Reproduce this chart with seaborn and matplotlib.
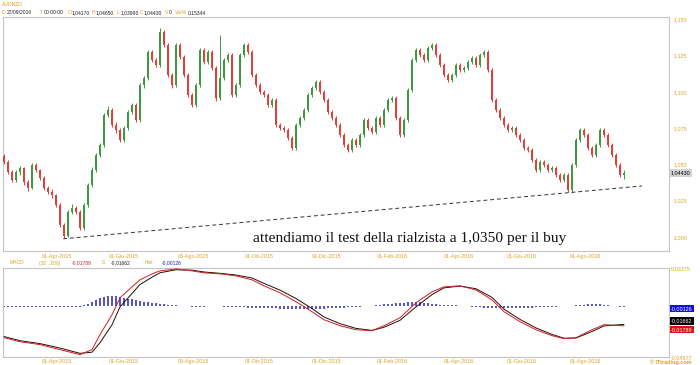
import matplotlib
matplotlib.use("Agg")
import matplotlib.pyplot as plt
import matplotlib.transforms as mtransforms
import numpy as np
import pandas as pd
import seaborn as sns

# ---------------- data ----------------
close = [1.0517, 1.0448, 1.0393, 1.0448, 1.0475, 1.0379, 1.0338, 1.0496, 1.0462, 1.0407,
         1.0338, 1.0310, 1.0289, 1.0221, 1.0083, 1.0007, 1.0172, 1.0200, 1.0172, 1.0062,
         1.0221, 1.0358, 1.0462, 1.0565, 1.0634, 1.0841, 1.0875, 1.0772, 1.0737, 1.0668,
         1.0751, 1.0861, 1.0910, 1.0806, 1.1047, 1.1096, 1.1275, 1.1220, 1.1185, 1.1413,
         1.1323, 1.1116, 1.1047, 1.1323, 1.1240, 1.1116, 1.0978, 1.0910, 1.1047, 1.1288,
         1.1206, 1.1275, 1.1164, 1.0958, 1.1096, 1.1220, 1.1254, 1.0978, 1.1047, 1.1254,
         1.1323, 1.1275, 1.1116, 1.1047, 1.0999, 1.0978, 1.0910, 1.0944, 1.0772, 1.0751,
         1.0737, 1.0682, 1.0613, 1.0772, 1.0820, 1.0875, 1.0978, 1.1027, 1.1068, 1.0999,
         1.0944, 1.0861, 1.0820, 1.0772, 1.0703, 1.0634, 1.0599, 1.0668, 1.0634, 1.0703,
         1.0806, 1.0751, 1.0724, 1.0820, 1.0772, 1.0875, 1.0944, 1.0958, 1.0820, 1.0703,
         1.0806, 1.1013, 1.1220, 1.1288, 1.1254, 1.1220, 1.1302, 1.1323, 1.1254, 1.1185,
         1.1116, 1.1082, 1.1116, 1.1185, 1.1151, 1.1164, 1.1206, 1.1233, 1.1185, 1.1254,
         1.1275, 1.1151, 1.0944, 1.0875, 1.0820, 1.0772, 1.0737, 1.0751, 1.0703, 1.0668,
         1.0613, 1.0599, 1.0531, 1.0462, 1.0517, 1.0496, 1.0462, 1.0475, 1.0427, 1.0393,
         1.0427, 1.0324, 1.0496, 1.0668, 1.0737, 1.0703, 1.0613, 1.0565, 1.0634, 1.0737,
         1.0703, 1.0634, 1.0565, 1.0496, 1.0427, 1.0443]
high = [1.0575, 1.0530, 1.0462, 1.0465, 1.0492, 1.0483, 1.0390, 1.0510, 1.0508, 1.0470,
        1.0420, 1.0352, 1.0330, 1.0300, 1.0235, 1.0098, 1.0185, 1.0225, 1.0215, 1.0185,
        1.0235, 1.0372, 1.0480, 1.0580, 1.0650, 1.0856, 1.0905, 1.0890, 1.0790, 1.0752,
        1.0765, 1.0875, 1.0925, 1.0922, 1.1060, 1.1110, 1.1290, 1.1292, 1.1236, 1.1440,
        1.1425, 1.1335, 1.1130, 1.1338, 1.1336, 1.1255, 1.1130, 1.0992, 1.1060, 1.1302,
        1.1300, 1.1290, 1.1288, 1.1178, 1.1392, 1.1235, 1.1268, 1.1265, 1.1060, 1.1268,
        1.1340, 1.1336, 1.1290, 1.1130, 1.1060, 1.1012, 1.0992, 1.0958, 1.0956, 1.0785,
        1.0765, 1.0750, 1.0695, 1.0785, 1.0835, 1.0888, 1.0990, 1.1040, 1.1082, 1.1080,
        1.1012, 1.0958, 1.0875, 1.0835, 1.0785, 1.0716, 1.0648, 1.0682, 1.0680, 1.0716,
        1.0820, 1.0818, 1.0765, 1.0835, 1.0832, 1.0888, 1.0958, 1.0975, 1.0970, 1.0832,
        1.0820, 1.1028, 1.1235, 1.1305, 1.1300, 1.1268, 1.1318, 1.1340, 1.1336, 1.1268,
        1.1198, 1.1130, 1.1130, 1.1200, 1.1198, 1.1178, 1.1220, 1.1248, 1.1246, 1.1268,
        1.1290, 1.1288, 1.1165, 1.0958, 1.0890, 1.0835, 1.0785, 1.0765, 1.0765, 1.0716,
        1.0682, 1.0626, 1.0612, 1.0545, 1.0530, 1.0530, 1.0510, 1.0488, 1.0488, 1.0440,
        1.0440, 1.0440, 1.0510, 1.0682, 1.0752, 1.0750, 1.0716, 1.0626, 1.0648, 1.0752,
        1.0750, 1.0716, 1.0648, 1.0580, 1.0510, 1.0465]
low = [1.0500, 1.0435, 1.0378, 1.0382, 1.0430, 1.0362, 1.0320, 1.0330, 1.0448, 1.0395,
       1.0325, 1.0295, 1.0270, 1.0205, 1.0068, 0.9995, 1.0000, 1.0158, 1.0160, 1.0050,
       1.0050, 1.0205, 1.0345, 1.0448, 1.0550, 1.0620, 1.0828, 1.0760, 1.0720, 1.0655,
       1.0655, 1.0738, 1.0848, 1.0790, 1.0795, 1.1030, 1.1082, 1.1205, 1.1170, 1.1172,
       1.1308, 1.1100, 1.1030, 1.1035, 1.1225, 1.1100, 1.0962, 1.0895, 1.0898, 1.1032,
       1.1192, 1.1195, 1.1150, 1.0940, 1.0945, 1.1082, 1.1205, 1.0962, 1.0965, 1.1035,
       1.1240, 1.1262, 1.1100, 1.1032, 1.0985, 1.0962, 1.0895, 1.0898, 1.0760, 1.0738,
       1.0722, 1.0668, 1.0598, 1.0600, 1.0758, 1.0805, 1.0862, 1.0965, 1.1012, 1.0985,
       1.0930, 1.0848, 1.0805, 1.0758, 1.0690, 1.0620, 1.0585, 1.0588, 1.0620, 1.0622,
       1.0690, 1.0738, 1.0710, 1.0712, 1.0758, 1.0760, 1.0862, 1.0930, 1.0808, 1.0690,
       1.0690, 1.0792, 1.1000, 1.1205, 1.1240, 1.1205, 1.1206, 1.1288, 1.1240, 1.1170,
       1.1100, 1.1068, 1.1070, 1.1102, 1.1138, 1.1140, 1.1150, 1.1192, 1.1170, 1.1172,
       1.1240, 1.1138, 1.0930, 1.0860, 1.0805, 1.0758, 1.0722, 1.0724, 1.0690, 1.0655,
       1.0600, 1.0585, 1.0518, 1.0448, 1.0450, 1.0482, 1.0448, 1.0450, 1.0412, 1.0380,
       1.0380, 1.0308, 1.0310, 1.0482, 1.0655, 1.0690, 1.0600, 1.0550, 1.0552, 1.0620,
       1.0690, 1.0620, 1.0550, 1.0482, 1.0412, 1.0399]
first_open = 1.0560

# MACD histogram, one bar per candle (units of 1e-4)
hist_e4 = [-10, -10, -10, -9, -9, -9, -9, -9, -9, -9,
           -10, -11, -12, -13, -14, -14, -13, -12, -12, -11,
           5, 18, 30, 50, 72, 80, 88, 90, 86, 81,
           72, 64, 59, 50, 42, 37, 32, 28, 22, 17,
           14, 10, 7, 4, 2, -2, -6, -7, -8, -7,
           -8, -6, -5, -5, -6, -7, -8, -8, -10, -13,
           -15, -16, -18, -20, -22, -22, -23, -24, -24, -25,
           -27, -28, -29, -29, -29, -28, -28, -27, -26, -25,
           -25, -23, -21, -19, -18, -16, -14, -12, -10, -8,
           -5, -3, 0, 5, 10, 14, 17, 20, 22, 23,
           28, 33, 37, 36, 32, 28, 25, 20, 15, 11,
           9, 7, 5, 3, 2, -2, -5, -8, -10, -13,
           -17, -20, -22, -23, -23, -23, -23, -22, -21, -20,
           -19, -18, -16, -15, -14, -12, -11, -9, -7, -5,
           -4, -2, 1, 3, 6, 10, 14, 16, 16, 14,
           11, 6, 2, -3, -8, -13]

# MACD (32, 200) and signal (9), sampled at candle indices
macd_idx = [0, 4, 9, 14, 19, 22, 24, 27, 29, 32, 34, 37, 39, 43, 47, 50, 54, 58, 62, 65,
            69, 73, 77, 80, 84, 88, 92, 95, 99, 103, 107, 110, 114, 118, 122, 125, 129,
            133, 137, 140, 143, 147, 150, 155]
macd_val = [-0.0285, -0.0321, -0.0347, -0.0392, -0.0436, -0.0392, -0.0258, -0.0080, 0.0071,
            0.0169, 0.0232, 0.0285, 0.0312, 0.0329, 0.0312, 0.0294, 0.0285, 0.0267, 0.0232,
            0.0178, 0.0116, 0.0036, -0.0053, -0.0125, -0.0178, -0.0214, -0.0223, -0.0178,
            -0.0107, 0.0027, 0.0125, 0.0169, 0.0178, 0.0142, 0.0053, -0.0053, -0.0142,
            -0.0214, -0.0267, -0.0294, -0.0285, -0.0214, -0.0169, -0.01789]
signal_val = [-0.0275, -0.0312, -0.0338, -0.0378, -0.0425, -0.0415, -0.0330, -0.0170, -0.0010,
              0.0110, 0.0190, 0.0255, 0.0295, 0.0322, 0.0318, 0.0302, 0.0290, 0.0275, 0.0248,
              0.0200, 0.0140, 0.0065, -0.0025, -0.0100, -0.0160, -0.0202, -0.0220, -0.0192,
              -0.0130, -0.0010, 0.0100, 0.0160, 0.0176, 0.0152, 0.0075, -0.0030, -0.0122,
              -0.0198, -0.0256, -0.0290, -0.0288, -0.0230, -0.0180, -0.01662]

trend_idx = [14.8, 159.5]
trend_price = [0.9988, 1.0352]

date_pos = [13.25, 30, 47.25, 63.75, 80.75, 97, 113.75, 129.5, 145.25]
date_labels = ["01-Apr-2015", "01-Giu-2015", "03-Ago-2015", "01-Ott-2015", "01-Dic-2015",
               "01-Feb-2016", "01-Apr-2016", "01-Giu-2016", "01-Ago-2016"]
price_ticks = [1.000, 1.025, 1.050, 1.075, 1.100, 1.125, 1.150]
price_lim = [0.9904, 1.1516]
macd_lim = [-0.04577, 0.03375]

last_close = 1.04430
macd_last, signal_last, hist_last = -0.01789, -0.01662, -0.00126

# ---------------- styling ----------------
sns.set_theme(style="white")
plt.rcParams["font.family"] = ["Liberation Sans", "DejaVu Sans"]

GOLD = "#d9a520"
ORANGE = "#e89a1a"
GRID = "#c4c4c4"
UP = "#3f9a3f"
DOWN = "#e0403a"

W, H = 700, 365
fig = plt.figure(figsize=(W / 100, H / 100), dpi=100)


def fx(px):
    return px / W


def fy(py):
    return 1 - py / H


ax = fig.add_axes([fx(3), fy(251), fx(669) - fx(3), fy(17) - fy(251)])
ax2 = fig.add_axes([fx(3), fy(357), fx(669) - fx(3), fy(268) - fy(357)])

n = len(close)
idx = np.arange(n)
opens = np.array([first_open] + close[:-1])
closes = np.array(close)
highs = np.maximum.reduce([np.array(high), opens, closes])
lows = np.minimum.reduce([np.array(low), opens, closes])
up = closes >= opens
colors = np.where(up, UP, DOWN)

ax.vlines(idx, lows, highs, colors=colors, linewidth=0.7, zorder=2)
body_bottom = np.minimum(opens, closes)
body_h = np.maximum(np.abs(closes - opens), 0.0003)
ax.bar(idx, body_h, bottom=body_bottom, width=0.55, color=colors, linewidth=0, zorder=3)

trend_df = pd.DataFrame({"i": trend_idx, "p": trend_price})
sns.lineplot(data=trend_df, x="i", y="p", ax=ax, color="#333333", linewidth=0.7,
             linestyle=(0, (4, 3)), zorder=4)

xlim = (-0.25, 166.25)
ax.set_xlim(*xlim)
ax.set_ylim(*price_lim)
ax.set_xlabel("")
ax.set_ylabel("")
ax.yaxis.tick_right()
ax.set_yticks(price_ticks)
ax.set_yticklabels([f"{v:.3f}".replace(".", ",") for v in price_ticks])
ax.set_xticks(date_pos)
ax.set_xticklabels(date_labels)
ax.tick_params(axis="y", length=0, pad=3, labelsize=3.9, labelcolor=GOLD)
ax.tick_params(axis="x", length=0, pad=2.2, labelsize=3.9, labelcolor=GOLD)
for s in ax.spines.values():
    s.set_color(GRID)
    s.set_linewidth(0.8)

# last price box
tr = mtransforms.blended_transform_factory(ax.transAxes, ax.transData)
ax.text(1.003, last_close, f"{last_close:.5f}".replace(".", ","), transform=tr,
        fontsize=3.9, color="black", va="center", ha="left",
        bbox=dict(boxstyle="square,pad=0.25", facecolor="#d4d4d4", edgecolor="none"))

ax.text(0.375, 0.9993, "attendiamo il test della rialzista a 1,0350 per il buy",
        transform=tr, fontsize=11.1, family=["Liberation Serif", "DejaVu Serif"],
        color="#111111", ha="left", va="center")

# ---------------- MACD panel ----------------
ax2.bar(idx, np.array(hist_e4) * 1e-4, width=0.45, color="#5555c8", linewidth=0, zorder=2)
macd_df = pd.DataFrame({"i": macd_idx, "macd": macd_val, "signal": signal_val})
sns.lineplot(data=macd_df, x="i", y="signal", ax=ax2, color="#2a0a0a", linewidth=0.7, zorder=3)
sns.lineplot(data=macd_df, x="i", y="macd", ax=ax2, color="#d02020", linewidth=0.7, zorder=4)
ax2.set_xlim(*xlim)
ax2.set_ylim(*macd_lim)
ax2.set_xlabel("")
ax2.set_ylabel("")
ax2.yaxis.tick_right()
ax2.set_yticks(macd_lim)
ax2.set_yticklabels([f"{v:.5f}".replace(".", ",") for v in macd_lim])
ax2.set_xticks(date_pos)
ax2.set_xticklabels(date_labels)
ax2.tick_params(axis="y", length=0, pad=1, labelsize=3.9, labelcolor=GOLD)
ax2.tick_params(axis="x", length=0, pad=1.5, labelsize=3.9, labelcolor=GOLD)
for s in ax2.spines.values():
    s.set_color(GRID)
    s.set_linewidth(0.8)

tr2 = mtransforms.blended_transform_factory(ax2.transAxes, ax2.transData)
for val, col, dy in [(hist_last, "#1010e0", -1.0), (signal_last, "#000000", 2.6),
                     (macd_last, "#e01010", -2.6)]:
    ax2.annotate(f"{val:.5f}".replace(".", ","), xy=(1.003, val), xycoords=tr2,
                 xytext=(0, dy), textcoords="offset points", fontsize=3.9, color="white",
                 va="center", ha="left",
                 bbox=dict(boxstyle="square,pad=0.25", facecolor=col, edgecolor="none"))

# ---------------- header texts ----------------
hs = 3.6
fig.text(fx(2), fy(5), "AUDNZD", fontsize=hs, color=ORANGE, va="center", ha="left")
parts = [(2, "D", ORANGE), (7, "27/09/2016", "#222222"), (40, "T", ORANGE),
         (44, "00:00:00", "#222222"), (68, "O", ORANGE), (72, "1,04170", "#222222"),
         (92, "H", ORANGE), (96, "1,04650", "#222222"), (117, "L", ORANGE),
         (121, "1,03990", "#222222"), (140, "C", ORANGE), (144, "1,04430", "#222222"),
         (165, "V", ORANGE), (169, "0", "#222222"), (175, "Var%", ORANGE),
         (188, "0,15344", "#222222")]
for px, t, c in parts:
    fig.text(fx(px), fy(13), t, fontsize=hs, color=c, va="center", ha="left")

mparts = [(10, "MACD", GOLD), (39, "(32 , 200)", GOLD), (72, "-0,01789", "#d02020"),
          (102, "S", GOLD), (111, "-0,01662", "#222222"), (145, "Hist", GOLD),
          (162, "-0,00126", "#1a1aa0")]
for px, t, c in mparts:
    fig.text(fx(px), fy(263), t, fontsize=hs, color=c, va="center", ha="left")

fig.text(fx(650), fy(362), "\u00a9 ITtrading.com", fontsize=3.9, color=ORANGE,
         fontweight="bold", va="center", ha="left")

fig.savefig("out.png", dpi=100, facecolor="white")
